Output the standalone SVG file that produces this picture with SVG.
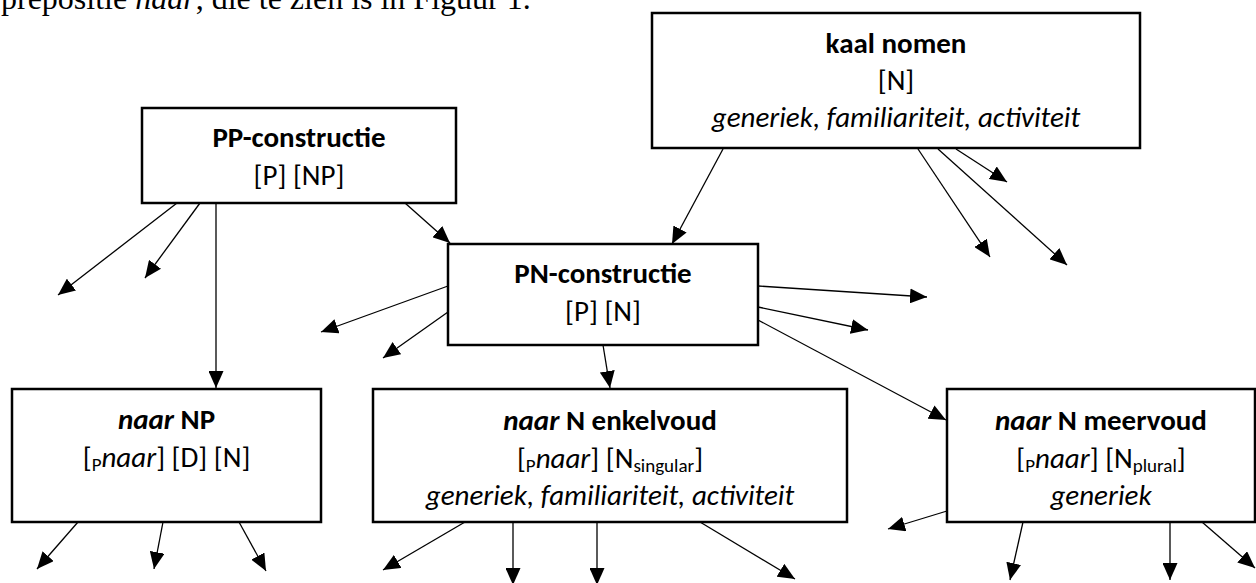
<svg xmlns="http://www.w3.org/2000/svg" width="1256" height="583" viewBox="0 0 1256 583">
  <style>
    .box { fill: #ffffff; stroke: #000000; stroke-width: 2.5; }
    .t { font-family: Carlito, Calibri, Lato, sans-serif; font-size: 29px; text-anchor: middle; fill: #000000; }
    .b { font-weight: bold; }
    .i { font-style: italic; }
    .sub { font-size: 19px; font-style: normal; font-weight: normal; }
    .para { font-family: "Liberation Serif", "Times New Roman", serif; font-size: 32px; fill: #000000; }
    #connectors line { stroke: #000000; stroke-width: 1.3; fill: none; marker-end: url(#ah); }
  </style>
  <defs>
    <marker id="ah" markerWidth="17" markerHeight="15" refX="17" refY="7.5" orient="auto" markerUnits="userSpaceOnUse">
      <path d="M0,0 L17,7.5 L0,15 z" fill="#000000"/>
    </marker>
  </defs>
  <rect width="1256" height="583" fill="#ffffff"/>

  <!-- running text line above the figure -->
  <text class="para" x="1" y="9">prepositie <tspan font-style="italic">naar</tspan>, die te zien is in Figuur 1.</text>

  <!-- connectors -->
  <g id="connectors">
    <!-- from kaal nomen -->
    <line x1="723" y1="149" x2="672" y2="244"/>
    <line x1="918" y1="149" x2="990" y2="257"/>
    <line x1="938" y1="149" x2="1067" y2="265"/>
    <line x1="956" y1="149" x2="1007" y2="182"/>
    <!-- from PP-constructie -->
    <line x1="177" y1="203" x2="58" y2="295"/>
    <line x1="200" y1="203" x2="145" y2="278"/>
    <line x1="216" y1="203" x2="216" y2="388"/>
    <line x1="405" y1="203" x2="450" y2="243"/>
    <!-- from PN-constructie -->
    <line x1="448" y1="286" x2="321" y2="332"/>
    <line x1="448" y1="312" x2="383" y2="358"/>
    <line x1="758" y1="286" x2="927" y2="297"/>
    <line x1="758" y1="307" x2="868" y2="330"/>
    <line x1="758" y1="320" x2="946" y2="420"/>
    <line x1="603" y1="345" x2="610" y2="388"/>
    <!-- from naar NP -->
    <line x1="78" y1="522" x2="37" y2="569"/>
    <line x1="163" y1="522" x2="154" y2="569"/>
    <line x1="239" y1="522" x2="266" y2="571"/>
    <!-- from naar N enkelvoud -->
    <line x1="465" y1="522" x2="383" y2="570"/>
    <line x1="513" y1="522" x2="513" y2="585"/>
    <line x1="597" y1="522" x2="597" y2="585"/>
    <line x1="700" y1="522" x2="795" y2="579"/>
    <!-- from naar N meervoud -->
    <line x1="947" y1="511" x2="888" y2="529"/>
    <line x1="1023" y1="522" x2="1010" y2="580"/>
    <line x1="1170" y1="522" x2="1170" y2="580"/>
    <line x1="1202" y1="522" x2="1255" y2="568"/>
  </g>

  <g id="kaal-nomen">
    <rect class="box" x="652" y="13" width="488" height="135"/>
    <text class="t b" x="896" y="53">kaal nomen</text>
    <text class="t" x="896" y="90">[N]</text>
    <text class="t i" x="896" y="127">generiek, familiariteit, activiteit</text>
  </g>

  <g id="pp-constructie">
    <rect class="box" x="142" y="108" width="314" height="95"/>
    <text class="t b" x="299" y="147">PP-constructie</text>
    <text class="t" x="299" y="184.5">[P] [NP]</text>
  </g>

  <g id="pn-constructie">
    <rect class="box" x="448" y="244" width="310" height="101"/>
    <text class="t b" x="603" y="283">PN-constructie</text>
    <text class="t" x="603" y="320.5">[P] [N]</text>
  </g>

  <g id="naar-np">
    <rect class="box" x="12" y="389" width="309" height="133"/>
    <text class="t b" x="166.5" y="429"><tspan class="i">naar</tspan> NP</text>
    <text class="t" x="166.5" y="466.5">[<tspan class="sub" dy="4">P</tspan><tspan class="i" dy="-4">naar</tspan>] [D] [N]</text>
  </g>

  <g id="naar-n-enkelvoud">
    <rect class="box" x="373" y="389" width="474" height="133"/>
    <text class="t b" x="610" y="430"><tspan class="i">naar</tspan> N enkelvoud</text>
    <text class="t" x="610" y="467.5">[<tspan class="sub" dy="4">P</tspan><tspan class="i" dy="-4">naar</tspan>] [N<tspan class="sub" dy="4">singular</tspan><tspan dy="-4">]</tspan></text>
    <text class="t i" x="610" y="505">generiek, familiariteit, activiteit</text>
  </g>

  <g id="naar-n-meervoud">
    <rect class="box" x="947" y="389" width="308" height="133"/>
    <text class="t b" x="1101" y="430"><tspan class="i">naar</tspan> N meervoud</text>
    <text class="t" x="1101" y="467.5">[<tspan class="sub" dy="4">P</tspan><tspan class="i" dy="-4">naar</tspan>] [N<tspan class="sub" dy="4">plural</tspan><tspan dy="-4">]</tspan></text>
    <text class="t i" x="1101" y="505">generiek</text>
  </g>
</svg>
